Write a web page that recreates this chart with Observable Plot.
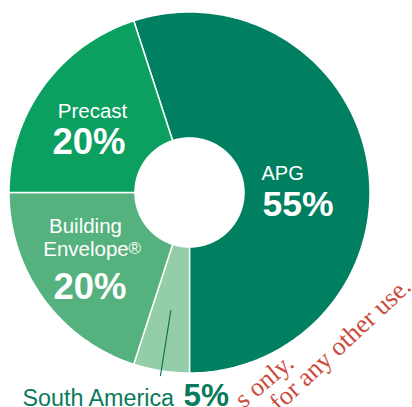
<!DOCTYPE html>
<html><head><meta charset="utf-8">
<script src="https://cdn.jsdelivr.net/npm/d3@7"></script>
<script src="https://cdn.jsdelivr.net/npm/@observablehq/plot@0.6"></script>
<style>html,body{margin:0;padding:0;background:#fff;overflow:hidden}</style>
</head><body><div id="chart"></div>
<script>
// ---- data ----
const segments = ["APG", "South America", "Building Envelope", "Precast"];
const shares = [55, 5, 20, 20];
const pctLabels = ["55%", "5%", "20%", "20%"];
const colors = ["#008060", "#93CEA8", "#55B17E", "#0BA060"];
const watermark = ["s only.", "for any other use."];

// ---- layout ----
const W = 412, H = 407, CX = 189, CY = 192, R = 180.5, R0 = 0.302;
const toU = (px, py) => ({x: (px - CX) / R, y: (py - CY) / R});

const arcs = d3.pie().sort(null).startAngle(-0.1 * Math.PI).endAngle(1.9 * Math.PI)(shares);
const pts = [];
arcs.forEach((a, i) => {
  const n = 180;
  for (let k = 0; k <= n; k++) {
    const t = a.startAngle + (a.endAngle - a.startAngle) * k / n;
    pts.push({seg: segments[i], x: Math.sin(t), y: -Math.cos(t)});
  }
  for (let k = n; k >= 0; k--) {
    const t = a.startAngle + (a.endAngle - a.startAngle) * k / n;
    pts.push({seg: segments[i], x: R0 * Math.sin(t), y: -R0 * Math.cos(t)});
  }
});
const mid = i => (arcs[i].startAngle + arcs[i].endAngle) / 2;
const polar = (ang, r) => ({x: r * Math.sin(ang), y: -r * Math.cos(ang)});

const whiteText = [
  {...toU(92, 117), t: segments[3], size: 20.5, w: 400, a: "middle"},
  {...toU(88.5, 153.5), t: pctLabels[3], size: 36.5, w: 700, a: "middle"},
  {...toU(261, 179), t: segments[0], size: 20, w: 400, a: "start"},
  {...toU(262, 215.5), t: pctLabels[0], size: 35.5, w: 700, a: "start"},
  {...toU(85, 232), t: "Building", size: 20.5, w: 400, a: "middle"},
  {...toU(85.5, 255), t: "Envelope", size: 20.5, w: 400, a: "middle"},
  {...toU(128, 253), t: "®", size: 17, w: 400, a: "start"},
  {...toU(89.5, 298.5), t: pctLabels[2], size: 36.5, w: 700, a: "middle"}
];
const greenText = [
  {...toU(22, 405), t: segments[1], size: 23.3, w: 400},
  {...toU(183, 405), t: pctLabels[1], size: 31.5, w: 700}
];
const leader = [{a: polar(mid(1), 0.66), b: polar(mid(1), 1.03)}];
const wm = [
  {...toU(295, 365), t: watermark[0], rot: -40},
  {...toU(412, 288), t: watermark[1], rot: -43}
];

const chart = Plot.plot({
  width: W, height: H,
  margin: 0,
  style: {fontFamily: "'Liberation Sans', Arial, sans-serif", background: "#fff", overflow: "hidden"},
  x: {domain: [-1, 1], range: [CX - R, CX + R], axis: null},
  y: {domain: [-1, 1], range: [CY - R, CY + R], axis: null},
  color: {domain: segments, range: colors},
  marks: [
    Plot.line(pts, {x: "x", y: "y", z: "seg", fill: "seg", stroke: "#fff", strokeWidth: 1.5, curve: "linear-closed", strokeLinejoin: "miter"}),
    Plot.link(leader, {x1: d => d.a.x, y1: d => d.a.y, x2: d => d.b.x, y2: d => d.b.y, stroke: "#0B6E55", strokeWidth: 1.1}),
    ...whiteText.map(d => Plot.text([d], {x: "x", y: "y", text: "t", fill: "#fff", fontSize: d.size, fontWeight: d.w, textAnchor: d.a, lineAnchor: "bottom"})),
    ...greenText.map(d => Plot.text([d], {x: "x", y: "y", text: "t", fill: "#0A7A5C", fontSize: d.size, fontWeight: d.w, textAnchor: "start", lineAnchor: "bottom"})),
    ...wm.map(d => Plot.text([d], {x: "x", y: "y", text: "t", fill: "#CC4A3A", fontSize: 26, fontFamily: "'Liberation Serif', 'Times New Roman', serif", textAnchor: "end", lineAnchor: "bottom", rotate: d.rot}))
  ]
});
document.getElementById("chart").appendChild(chart);
</script>
</body></html>
